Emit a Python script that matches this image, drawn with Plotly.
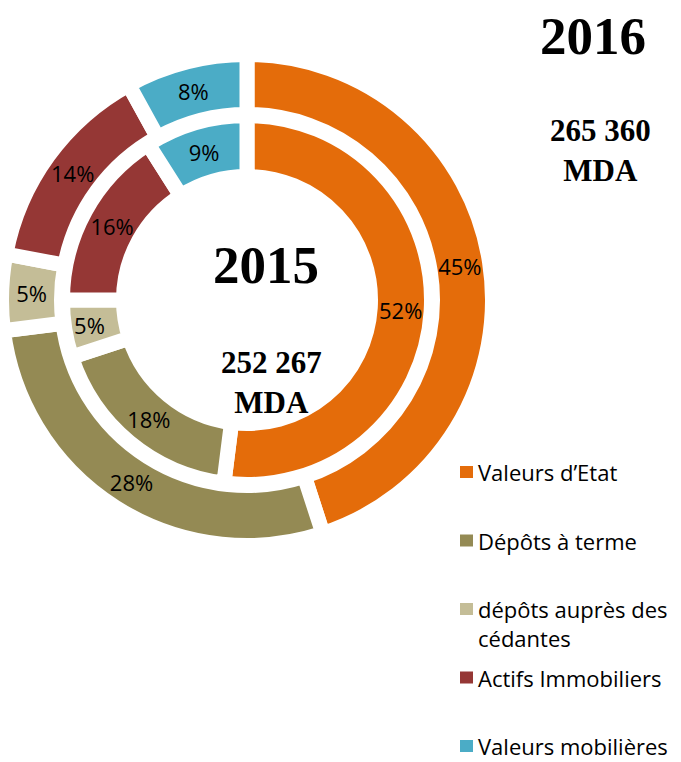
import plotly.graph_objects as go

categories = ["Valeurs d’Etat", "Dépôts à terme", "dépôts auprès des cédantes",
              "Actifs Immobiliers", "Valeurs mobilières"]
legend_labels = ["Valeurs d’Etat", "Dépôts à terme", "dépôts auprès des<br>cédantes",
                 "Actifs Immobiliers", "Valeurs mobilières"]
values_2016 = [45, 28, 5, 14, 8]
values_2015 = [52, 18, 5, 16, 9]
colors = ["#E46C0A", "#948A54", "#C4BD97", "#953735", "#4BACC6"]
year_outer, total_outer = "2016", "265 360<br>MDA"
year_inner, total_inner = "2015", "252 267<br>MDA"

W, H = 681, 762
def px(x):
    return x / W
def py(y):
    return 1 - y / H

cx, cy = 247, 300
gap = 15
R_out, r_out_hole = 238 + gap / 2, 193 - gap / 2
R_in, r_in_hole = 177 + gap / 2, 131 - gap / 2

fig = go.Figure()
common = dict(
    sort=False, direction="clockwise", rotation=0,
    texttemplate="%{value}%", textposition="inside",
    insidetextorientation="horizontal",
    textfont=dict(family="Open Sans", size=22, color="#000000"),
    showlegend=False, hoverinfo="label+percent",
)
fig.add_trace(go.Pie(
    labels=categories, values=values_2016, hole=r_out_hole / R_out,
    marker=dict(colors=colors, line=dict(color="white", width=gap)),
    domain=dict(x=[px(cx - R_out), px(cx + R_out)], y=[py(cy + R_out), py(cy - R_out)]),
    name=year_outer, **common))
fig.add_trace(go.Pie(
    labels=categories, values=values_2015, hole=r_in_hole / R_in,
    marker=dict(colors=colors, line=dict(color="white", width=gap)),
    domain=dict(x=[px(cx - R_in), px(cx + R_in)], y=[py(cy + R_in), py(cy - R_in)]),
    name=year_inner, **common))

serif = "Liberation Serif"
ann = [
    dict(text=f"<b>{year_outer}</b>", x=px(593), y=py(36), font=dict(family=serif, size=53, color="#000")),
    dict(text=f"<b>{total_outer}</b>", x=px(600), y=py(150), font=dict(family=serif, size=31, color="#000")),
    dict(text=f"<b>{year_inner}</b>", x=px(266), y=py(265), font=dict(family=serif, size=53, color="#000")),
    dict(text=f"<b>{total_inner}</b>", x=px(271), y=py(382), font=dict(family=serif, size=31, color="#000")),
]
annotations = []
for a in ann:
    annotations.append(dict(xref="paper", yref="paper", showarrow=False,
                            xanchor="center", yanchor="middle", **a))

shapes = []
leg_y0, leg_dy = 472, 68.5
for i, (lab, col) in enumerate(zip(legend_labels, colors)):
    yc = leg_y0 + i * leg_dy
    shapes.append(dict(type="rect", xref="paper", yref="paper",
                       x0=px(460), x1=px(473), y0=py(yc + 6), y1=py(yc - 6),
                       fillcolor=col, line=dict(width=0)))
    annotations.append(dict(xref="paper", yref="paper", showarrow=False,
                            x=px(477), y=py(yc - 16), xanchor="left", yanchor="top",
                            align="left", text=lab, borderpad=0,
                            font=dict(family="Open Sans", size=22, color="#000000")))

fig.update_layout(
    width=W, height=H, margin=dict(l=0, r=0, t=0, b=0),
    paper_bgcolor="white", plot_bgcolor="white",
    annotations=annotations, shapes=shapes,
)
fig.write_html("out.html", config={"displayModeBar": False},
               post_script="document.body.style.margin='0';")
